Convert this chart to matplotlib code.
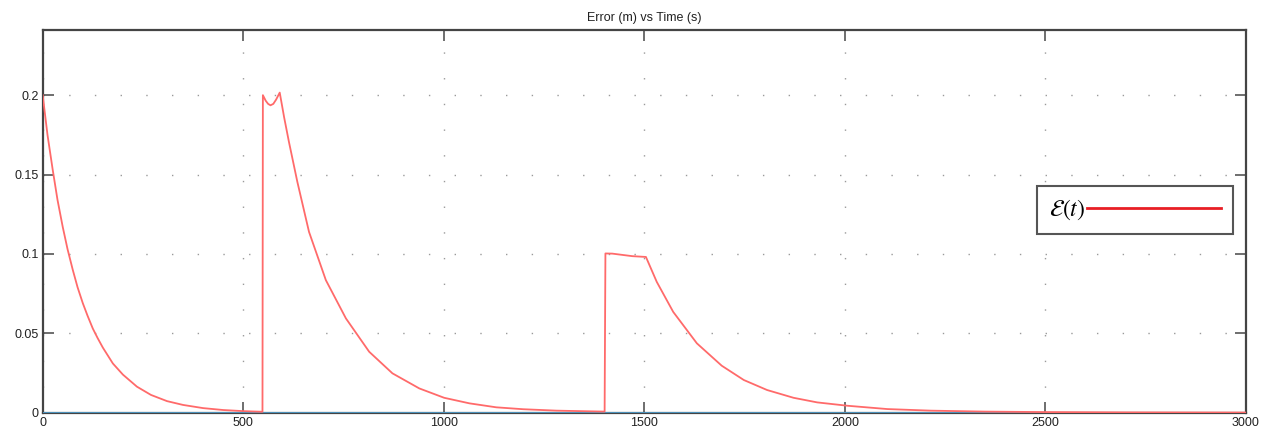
import matplotlib
matplotlib.use("Agg")
import matplotlib.pyplot as plt
from matplotlib.lines import Line2D

plt.rcParams['font.family'] = ['Liberation Sans', 'DejaVu Sans']
plt.rcParams['mathtext.fontset'] = 'stix'

# Error signal (red)
time_s = [0, 12, 25, 37, 50, 62, 75, 87, 100, 112, 125, 137, 150, 175, 200, 235, 270, 310, 350,
          400, 450, 500, 548,
          549, 556, 562, 568, 575, 582, 591, 602, 614, 635, 664, 706, 756, 814, 872, 939, 1001, 1064,
          1131, 1198, 1281, 1401,
          1403, 1420, 1470, 1504, 1531, 1572, 1631, 1693, 1748, 1806, 1872, 1931, 2006, 2106, 2214,
          2350, 2500, 2700, 3000]
error_m = [0.2, 0.175, 0.153, 0.134, 0.117, 0.103, 0.090, 0.079, 0.069, 0.061, 0.053, 0.047,
           0.041, 0.031, 0.024, 0.0164, 0.0112, 0.0073, 0.0049, 0.0029, 0.0017, 0.0010, 0.0006,
           0.2, 0.1965, 0.1945, 0.1936, 0.1945, 0.1972, 0.2016, 0.186, 0.1705, 0.1453, 0.1139,
           0.0835, 0.0594, 0.0384, 0.0248, 0.0153, 0.0094, 0.0059, 0.0034, 0.0022, 0.0013, 0.0007,
           0.1003, 0.1002, 0.0986, 0.0981, 0.0824, 0.0635, 0.0437, 0.0296, 0.0206, 0.0143, 0.0094,
           0.0065, 0.0044, 0.0023, 0.0013, 0.0007, 0.0004, 0.0002, 0.0001]

# Reference (blue) series at zero
ref_time = [0, 3000]
ref_value = [0.0, 0.0]

x_ticks = [0, 500, 1000, 1500, 2000, 2500, 3000]
y_ticks = [0, 0.05, 0.1, 0.15, 0.2]
y_tick_labels = ['0', '0.05', '0.1', '0.15', '0.2']

fig = plt.figure(figsize=(12.74, 4.36), dpi=100)
ax = fig.add_axes([0.0335, 0.0534, 0.9445, 0.8777])

ax.plot(ref_time, ref_value, color='#4f9bc9', lw=2.0, zorder=3)
ax.plot(time_s, error_m, color='#ff6a6a', lw=1.3, zorder=4)

ax.set_xlim(0, 3000)
ax.set_ylim(0, 0.241)
ax.set_xticks(x_ticks)
ax.set_xticklabels([str(t) for t in x_ticks])
ax.set_yticks(y_ticks)
ax.set_yticklabels(y_tick_labels)

ax.tick_params(direction='in', length=8, width=1.2, color='#555555',
               top=True, right=True, labelsize=9, pad=3, labelcolor='#222222')
for sp in ax.spines.values():
    sp.set_color('#444444')
    sp.set_linewidth(1.6)

ax.grid(True, color='#9a9a9a', linewidth=1.0, linestyle=(0, (1, 17.5)))
ax.set_axisbelow(True)

ax.set_title('Error (m) vs Time (s)', fontsize=9, pad=6.5, color='#222222')

handle = Line2D([], [], color='#e81e25', lw=2.0)
leg = ax.legend([handle], [r'$\mathcal{E}(t)$'], loc='center left',
                bbox_to_anchor=(0.8263, 0.53), markerfirst=False,
                fontsize=17, handlelength=5.7, handletextpad=0.08,
                borderpad=0.5, borderaxespad=0.0, fancybox=False,
                framealpha=1.0, edgecolor='#555555')
leg.get_frame().set_linewidth(1.5)

fig.savefig('out.png', dpi=100, facecolor='white')
